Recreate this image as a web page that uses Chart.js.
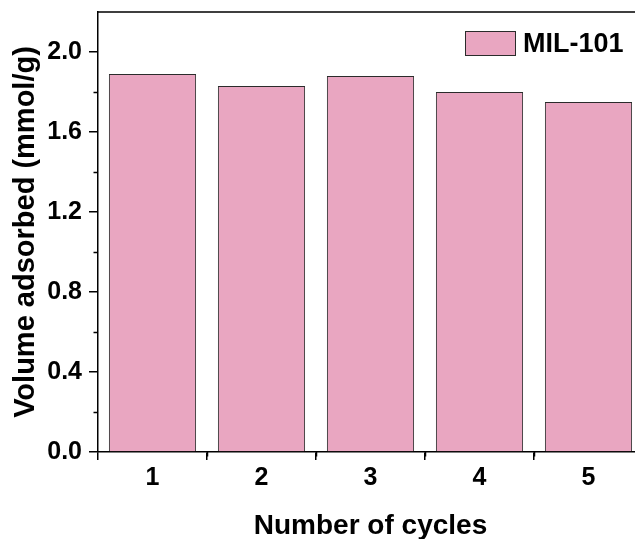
<!DOCTYPE html>
<html>
<head>
<meta charset="utf-8">
<title>MIL-101 cycling</title>
<script src="https://cdn.jsdelivr.net/npm/chart.js@4.4.1/dist/chart.umd.min.js"></script>
<style>
    html, body { margin: 0; padding: 0; background: #fff; overflow: hidden; }
    #cyclesChart { display: block; }
</style>
</head>
<body>
<canvas id="cyclesChart" width="646" height="539"></canvas>
<script>
// Data
const cycles = ['1', '2', '3', '4', '5'];
const volumeAdsorbed = [1.89, 1.83, 1.88, 1.80, 1.75];
const seriesName = 'MIL-101';
const yTicks = [0, 0.4, 0.8, 1.2, 1.6, 2.0];
const yMinorTicks = [0.2, 0.6, 1.0, 1.4, 1.8];

const FONT = '"Liberation Sans", Arial, sans-serif';
const BAR_FILL = '#E9A6C1';
const BAR_EDGE = '#2b2b2b';

// Top/right frame lines plus the small minor ticks Origin puts between majors
const framePlugin = {
    id: 'frame',
    afterDraw(chart) {
        const { ctx, chartArea } = chart;
        const x = chart.scales.x;
        const y = chart.scales.y;
        ctx.save();
        ctx.strokeStyle = '#000';
        ctx.lineWidth = 1.5;
        ctx.beginPath();
        ctx.moveTo(chartArea.left, chartArea.top);
        ctx.lineTo(chartArea.right, chartArea.top);
        ctx.lineTo(chartArea.right, chartArea.bottom);
        ctx.stroke();

        ctx.beginPath();
        yMinorTicks.forEach(v => {
            const py = Math.round(y.getPixelForValue(v)) + 0.5;
            ctx.moveTo(chartArea.left - 4.5, py);
            ctx.lineTo(chartArea.left, py);
        });
        for (let i = 0; i < cycles.length - 1; i++) {
            const px = Math.round(x.getPixelForValue(i + 0.5)) + 0.5;
            ctx.moveTo(px, chartArea.bottom);
            ctx.lineTo(px, chartArea.bottom + 4.5);
        }
        ctx.stroke();
        ctx.restore();
    }
};

// Legend drawn inside the plot, top right
const insideLegend = {
    id: 'insideLegend',
    afterDraw(chart) {
        const { ctx } = chart;
        const ds = chart.data.datasets[0];
        ctx.save();
        ctx.fillStyle = ds.backgroundColor;
        ctx.fillRect(465, 31, 50, 24);
        ctx.strokeStyle = ds.borderColor;
        ctx.lineWidth = 1;
        ctx.strokeRect(465.5, 31.5, 50, 24);
        ctx.fillStyle = '#000';
        ctx.font = 'bold 27px ' + FONT;
        ctx.textBaseline = 'alphabetic';
        ctx.textAlign = 'left';
        ctx.fillText(ds.label, 523, 52);
        ctx.restore();
    }
};

function buildChart() {
    const ctx = document.getElementById('cyclesChart');
    return new Chart(ctx, {
        type: 'bar',
        data: {
            labels: cycles,
            datasets: [{
                label: seriesName,
                data: volumeAdsorbed,
                backgroundColor: BAR_FILL,
                borderColor: BAR_EDGE,
                borderWidth: 1,
                barPercentage: 0.8,
                categoryPercentage: 1.0
            }]
        },
        options: {
            responsive: false,
            animation: false,
            layout: { padding: { top: 12, right: 3, left: 0, bottom: 0 } },
            plugins: {
                legend: { display: false },
                tooltip: { enabled: false }
            },
            scales: {
                x: {
                    offset: true,
                    afterFit(scale) {
                        scale.height = 87;
                        scale.paddingLeft = 0;
                        scale.paddingRight = 0;
                    },
                    grid: {
                        drawOnChartArea: false,
                        drawTicks: true,
                        tickLength: 8,
                        color: '#000',
                        lineWidth: 1.5
                    },
                    border: { display: true, color: '#000', width: 1.5 },
                    ticks: {
                        color: '#000',
                        padding: 6,
                        font: { family: FONT, size: 25, weight: 'bold', lineHeight: 1 }
                    },
                    title: {
                        display: true,
                        text: 'Number of cycles',
                        color: '#000',
                        padding: { top: 0, bottom: -1 },
                        font: { family: FONT, size: 28, weight: 'bold', lineHeight: 1 }
                    }
                },
                y: {
                    min: 0,
                    max: 2.2,
                    afterFit(scale) {
                        scale.width = 98;
                        scale.paddingTop = 0;
                        scale.paddingBottom = 0;
                    },
                    afterBuildTicks(scale) {
                        scale.ticks = yTicks.map(v => ({ value: v }));
                    },
                    grid: {
                        drawOnChartArea: false,
                        drawTicks: true,
                        tickLength: 9,
                        color: '#000',
                        lineWidth: 1.5
                    },
                    border: { display: true, color: '#000', width: 1.5 },
                    ticks: {
                        color: '#000',
                        padding: 7,
                        font: { family: FONT, size: 25, weight: 'bold', lineHeight: 1 },
                        callback: v => Number(v).toFixed(1)
                    },
                    title: {
                        display: true,
                        text: 'Volume adsorbed (mmol/g)',
                        color: '#000',
                        padding: { top: 11, bottom: 0 },
                        font: { family: FONT, size: 29, weight: 'bold', lineHeight: 1 }
                    }
                }
            }
        },
        plugins: [framePlugin, insideLegend]
    });
}

buildChart();
</script>
</body>
</html>
